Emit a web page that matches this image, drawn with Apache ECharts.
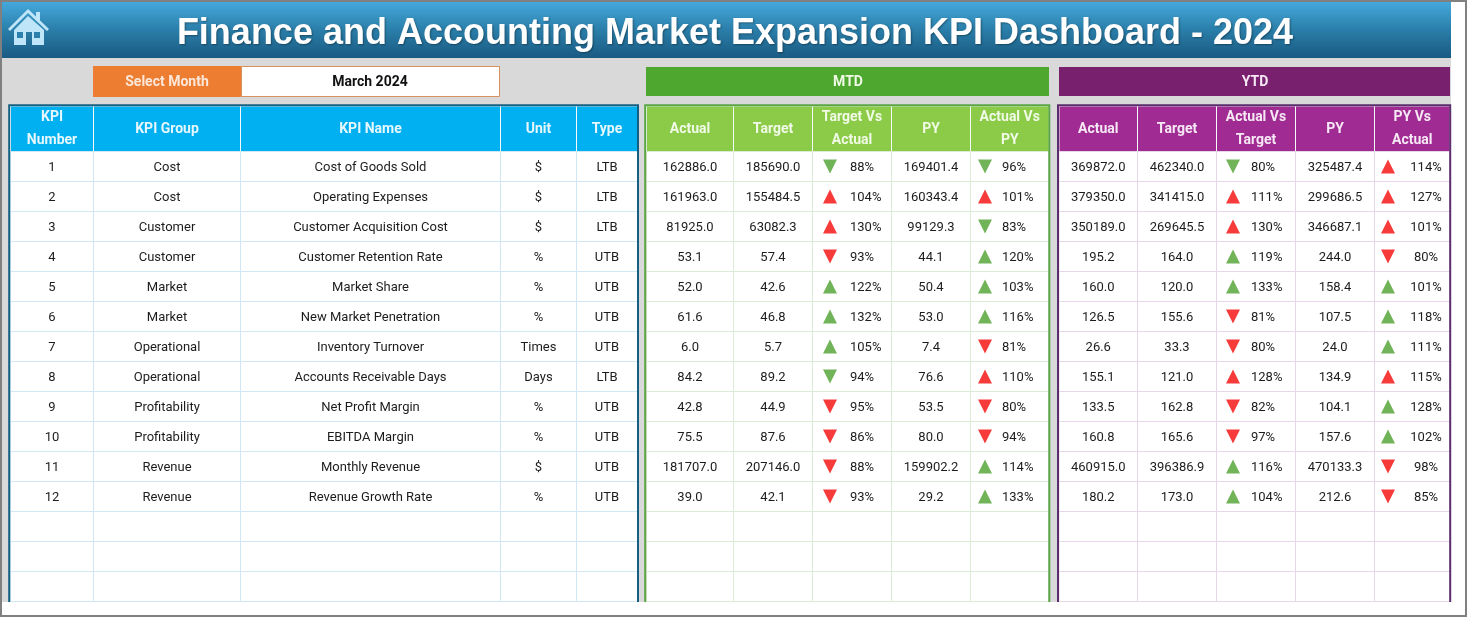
<!DOCTYPE html>
<html><head><meta charset="utf-8">
<style>html,body{margin:0;padding:0;background:#fff}#c{width:1467px;height:618px}</style>
<script src="https://cdn.jsdelivr.net/npm/echarts@6/dist/echarts.min.js"></script>
</head><body><div id="c"></div>
<script>
// ---------- data ----------
const titleText = 'Finance and Accounting Market Expansion KPI Dashboard - 2024';
const selectLabel = 'Select Month';
const selectedMonth = 'March 2024';
const infoHeaders = ['KPI\nNumber', 'KPI Group', 'KPI Name', 'Unit', 'Type'];
const mtdHeaders = ['Actual', 'Target', 'Target Vs\nActual', 'PY', 'Actual Vs\nPY'];
const ytdHeaders = ['Actual', 'Target', 'Actual Vs\nTarget', 'PY', 'PY Vs\nActual'];
const kpiNumbers = [1, 2, 3, 4, 5, 6, 7, 8, 9, 10, 11, 12];
const kpiGroups = ['Cost', 'Cost', 'Customer', 'Customer', 'Market', 'Market', 'Operational', 'Operational', 'Profitability', 'Profitability', 'Revenue', 'Revenue'];
const kpiNames = ['Cost of Goods Sold', 'Operating Expenses', 'Customer Acquisition Cost', 'Customer Retention Rate', 'Market Share', 'New Market Penetration', 'Inventory Turnover', 'Accounts Receivable Days', 'Net Profit Margin', 'EBITDA Margin', 'Monthly Revenue', 'Revenue Growth Rate'];
const units = ['$', '$', '$', '%', '%', '%', 'Times', 'Days', '%', '%', '$', '%'];
const types = ['LTB', 'LTB', 'LTB', 'UTB', 'UTB', 'UTB', 'UTB', 'LTB', 'UTB', 'UTB', 'UTB', 'UTB'];
const mtdActual = [162886.0, 161963.0, 81925.0, 53.1, 52.0, 61.6, 6.0, 84.2, 42.8, 75.5, 181707.0, 39.0];
const mtdTarget = [185690.0, 155484.5, 63082.3, 57.4, 42.6, 46.8, 5.7, 89.2, 44.9, 87.6, 207146.0, 42.1];
const mtdTargetVsActual = [88, 104, 130, 93, 122, 132, 105, 94, 95, 86, 88, 93];
const mtdPY = [169401.4, 160343.4, 99129.3, 44.1, 50.4, 53.0, 7.4, 76.6, 53.5, 80.0, 159902.2, 29.2];
const mtdActualVsPY = [96, 101, 83, 120, 103, 116, 81, 110, 80, 94, 114, 133];
const ytdActual = [369872.0, 379350.0, 350189.0, 195.2, 160.0, 126.5, 26.6, 155.1, 133.5, 160.8, 460915.0, 180.2];
const ytdTarget = [462340.0, 341415.0, 269645.5, 164.0, 120.0, 155.6, 33.3, 121.0, 162.8, 165.6, 396386.9, 173.0];
const ytdActualVsTarget = [80, 111, 130, 119, 133, 81, 80, 128, 82, 97, 116, 104];
const ytdPY = [325487.4, 299686.5, 346687.1, 244.0, 158.4, 107.5, 24.0, 134.9, 104.1, 157.6, 470133.3, 212.6];
const ytdPYVsActual = [114, 127, 101, 80, 101, 118, 111, 115, 128, 102, 98, 85];
const rowLabels = ['1','2','3','4','5','6','7','8','9','10','11','12','13','14','15'];

// ---------- layout ----------
const FONT = 'Roboto, "Noto Sans", sans-serif';
const HEAD_TOP = 106, HEAD_H = 45.5, BODY_TOP = 151.5, ROW_H = 30;
const infoEdges = [10.5, 93.5, 240.5, 500.5, 576.5, 637.5];
const mtdEdges = [646.5, 733.5, 812.5, 891.5, 970.5, 1049];
const ytdEdges = [1059, 1137.5, 1216.5, 1295.5, 1374.5, 1450];

const num = v => v.toFixed(1);
const same = v => String(v);
const pct = v => v + '%';
const panels = [
  { edges: infoEdges, heads: infoHeaders, headFill: '#00B0F0', line: '#CFE8F3', headText: '#E6F7FE',
    cols: [[kpiNumbers, same], [kpiGroups, same], [kpiNames, same], [units, same], [types, same]], marks: {} },
  { edges: mtdEdges, heads: mtdHeaders, headFill: '#8CCB48', line: '#DCEBD6', headText: '#F1FAE6',
    cols: [[mtdActual, num], [mtdTarget, num], [mtdTargetVsActual, pct], [mtdPY, num], [mtdActualVsPY, pct]],
    marks: { 2: { tri: 830, text: 850, align: 'left' }, 4: { tri: 985, text: 1002, align: 'left' } } },
  { edges: ytdEdges, heads: ytdHeaders, headFill: '#A02B93', line: '#E7D5EA', headText: '#F6E8F4',
    cols: [[ytdActual, num], [ytdTarget, num], [ytdActualVsTarget, pct], [ytdPY, num], [ytdPYVsActual, pct]],
    marks: { 2: { tri: 1233, text: 1251, align: 'left' }, 4: { tri: 1388, text: 1426, align: 'center' } } }
];

const grid = [], xAxis = [], yAxis = [], series = [];

function cellSeries(axisIndex, edges, cells, fill, stroke, textStyle) {
  return {
    type: 'custom', coordinateSystem: 'cartesian2d', xAxisIndex: axisIndex, yAxisIndex: axisIndex,
    clip: false, silent: true, z: 2,
    data: cells.map(c => [c.c, c.r]),
    renderItem(params, api) {
      const cell = cells[params.dataIndex];
      const mid = api.coord([edges[cell.c], cell.r]);
      const right = api.coord([edges[cell.c + 1], cell.r]);
      const h = api.size([0, 1])[1];
      const textX = cell.x != null ? api.coord([cell.x, cell.r])[0] : (mid[0] + right[0]) / 2;
      return { type: 'group', children: [
        { type: 'rect', shape: { x: mid[0], y: mid[1] - h / 2, width: right[0] - mid[0], height: h },
          style: { fill, stroke, lineWidth: 1 } },
        { type: 'text', x: textX, y: mid[1] + textStyle.dy,
          style: { text: cell.text, align: cell.align || 'center', verticalAlign: 'middle',
            fill: textStyle.color, font: textStyle.font, lineHeight: textStyle.lineHeight } }
      ] };
    }
  };
}

panels.forEach(p => {
  const x0 = p.edges[0], x1 = p.edges[p.edges.length - 1];
  // header grid
  let idx = grid.length;
  grid.push({ left: x0, width: x1 - x0, top: HEAD_TOP, height: HEAD_H });
  xAxis.push({ gridIndex: idx, type: 'value', min: x0, max: x1, show: false });
  yAxis.push({ gridIndex: idx, type: 'category', data: ['head'], show: false });
  series.push(cellSeries(idx, p.edges, p.heads.map((t, c) => ({ c, r: 0, text: t })), p.headFill, '#F4FAF8',
    { color: p.headText, font: 'bold 14px ' + FONT, dy: 0.5, lineHeight: 23 }));
  // body grid
  idx = grid.length;
  grid.push({ left: x0, width: x1 - x0, top: BODY_TOP, height: ROW_H * rowLabels.length });
  xAxis.push({ gridIndex: idx, type: 'value', min: x0, max: x1, show: false });
  yAxis.push({ gridIndex: idx, type: 'category', inverse: true, data: rowLabels, show: false });
  const cells = [];
  rowLabels.forEach((_, r) => p.cols.forEach((col, c) => {
    const has = r < col[0].length, m = p.marks[c];
    cells.push({ c, r, text: has ? col[1](col[0][r]) : '', x: m ? m.text : null, align: m ? m.align : 'center' });
  }));
  series.push(cellSeries(idx, p.edges, cells, '#FFFFFF', p.line,
    { color: '#1c1c1c', font: '13px ' + FONT, dy: 0.8, lineHeight: 16 }));
  Object.keys(p.marks).forEach(k => {
    const m = p.marks[k], vals = p.cols[k][0];
    series.push({
      type: 'scatter', xAxisIndex: idx, yAxisIndex: idx, symbol: 'triangle', symbolSize: [14, 14], z: 4,
      silent: true, clip: false,
      data: vals.map((v, r) => {
        const up = v >= 100, good = types[r] === 'LTB' ? !up : up;
        return { value: [m.tri, r], symbolRotate: up ? 0 : 180, itemStyle: { color: good ? '#4EA02E' : '#F50A0A' } };
      })
    });
  });
});

const band = (x, y, w, h, fill, z) => ({ type: 'rect', shape: { x, y, width: w, height: h }, style: { fill }, z: z || 0 });
const label = (x, y, text, fill, font) => ({ type: 'text', x, y, z: 20,
  style: { text, fill, font, align: 'center', verticalAlign: 'middle' } });
const border = (pts, stroke, w) => ({ type: 'polyline', z: 15, shape: { points: pts }, style: { stroke, lineWidth: w, fill: null } });
const HOUSE = '#BFE6F8', WIN = '#2C80AC';

const graphic = [
  band(0, 0, 1467, 618, '#FFFFFF', 0),
  band(2, 58, 1449, 544, '#D9D9D9', 1),
  { type: 'rect', z: 1, shape: { x: 2, y: 2, width: 1449, height: 56 },
    style: { fill: new echarts.graphic.LinearGradient(0, 0, 0, 1, [
      { offset: 0, color: '#45A8DB' }, { offset: 0.5, color: '#2A7EA9' }, { offset: 1, color: '#195A82' }]) } },
  // outer frame
  { type: 'rect', z: 16, shape: { x: 1, y: 1, width: 1465, height: 615 }, style: { fill: null, stroke: '#808080', lineWidth: 2 } },
  // home icon
  { type: 'polygon', z: 5, shape: { points: [[28, 9], [49, 29], [47, 31], [28, 13], [10, 31], [8, 29]] }, style: { fill: HOUSE } },
  band(36, 12, 4, 9, HOUSE, 5),
  { type: 'polygon', z: 5, shape: { points: [[28, 16], [44, 30], [44, 45], [32, 45], [32, 32], [26, 32], [26, 45], [14, 45], [14, 30]] }, style: { fill: HOUSE } },
  band(17, 32, 6, 6, WIN, 6), band(34, 32, 6, 6, WIN, 6),
  // selector
  band(93, 66, 148, 31, '#ED7D31', 5),
  { type: 'rect', z: 5, shape: { x: 241.5, y: 66.5, width: 258, height: 30 }, style: { fill: '#FFFFFF', stroke: '#D9905F', lineWidth: 1 } },
  label(167, 82, selectLabel, '#FCE8DA', 'bold 14px ' + FONT),
  label(370, 82, selectedMonth, '#111111', 'bold 14px ' + FONT),
  // MTD / YTD bands
  band(646, 67, 403, 29, '#4EA72E', 5),
  band(1059, 67, 391, 29, '#78206E', 5),
  label(848, 82, 'MTD', '#F1FAE6', 'bold 14px ' + FONT),
  label(1255, 82, 'YTD', '#F6E8F4', 'bold 14px ' + FONT),
  // panel borders
  border([[9.2, 602], [9.2, 105.2], [638, 105.2], [638, 602]], '#156082', 2),
  border([[645.2, 602], [645.2, 105.2], [1049.3, 105.2], [1049.3, 602]], '#5AA544', 2),
  border([[1058, 602], [1058, 105.2], [1450.2, 105.2], [1450.2, 602]], '#5C2D6E', 2)
];

const chart = echarts.init(document.getElementById('c'), null, { renderer: 'canvas' });
chart.setOption({
  animation: false,
  backgroundColor: '#FFFFFF',
  title: { text: titleText, left: 730, top: 11, textAlign: 'center', z: 30,
    textStyle: { color: '#FFFFFF', fontFamily: '"Liberation Sans", Arial, sans-serif', fontWeight: 'bold', fontSize: 36,
      textShadowColor: 'rgba(0,0,0,0.35)', textShadowBlur: 2, textShadowOffsetX: 1, textShadowOffsetY: 1 } },
  graphic: { elements: graphic },
  grid, xAxis, yAxis, series
});
</script></body></html>
